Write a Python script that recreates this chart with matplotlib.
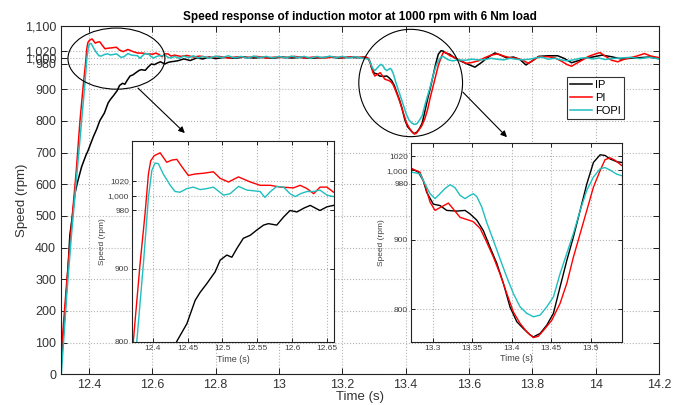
import matplotlib
matplotlib.use("Agg")
import matplotlib.pyplot as plt
from matplotlib.patches import Ellipse

plt.rcParams['font.family'] = ['Liberation Sans', 'DejaVu Sans']

title = "Speed response of induction motor at 1000 rpm with 6 Nm load"
series_names = ["IP", "PI", "FOPI"]
series_colors = ["#000000", "#ff0000", "#1fbfbf"]

main_xticks = [12.4, 12.6, 12.8, 13.0, 13.2, 13.4, 13.6, 13.8, 14.0, 14.2]
main_xticklabels = ["12.4", "12.6", "12.8", "13", "13.2", "13.4", "13.6", "13.8", "14", "14.2"]
main_yticks = [0, 100, 200, 300, 400, 500, 600, 700, 800, 900, 980, 1000, 1020, 1100]
main_yticklabels = ["0", "100", "200", "300", "400", "500", "600", "700", "800", "900",
                    "980", "1,000", "1,020", "1,100"]
inset_yticks = [800, 900, 980, 1000, 1020]
inset_yticklabels = ["800", "900", "980", "1,000", "1020"]
inset1_xticks = [12.4, 12.45, 12.5, 12.55, 12.6, 12.65]
inset1_xticklabels = ["12.4", "12.45", "12.5", "12.55", "12.6", "12.65"]
inset2_xticks = [13.3, 13.35, 13.4, 13.45, 13.5]
inset2_xticklabels = ["13.3", "13.35", "13.4", "13.45", "13.5"]

# (time [s], speed [rpm])
ip_data = [
    (12.312, 20), (12.325, 200), (12.335, 350), (12.340, 440), (12.348, 500), (12.356, 571),
    (12.365, 610), (12.377, 655), (12.390, 690), (12.398, 708), (12.414, 750), (12.425, 775),
    (12.4345, 801), (12.4489, 825), (12.4608, 857), (12.468, 868), (12.4776, 880), (12.4895, 896),
    (12.4967, 912), (12.5063, 919), (12.5135, 916), (12.5207, 928), (12.530, 942), (12.5398, 946),
    (12.549, 953), (12.559, 960), (12.566, 962), (12.578, 960), (12.5877, 971), (12.597, 980),
    (12.607, 978), (12.6164, 983), (12.626, 987), (12.640, 980), (12.650, 985), (12.6595, 987),
    (12.68, 990), (12.70, 996), (12.72, 991), (12.74, 999), (12.76, 996), (12.78, 1002),
    (12.80, 997), (12.83, 1001), (12.86, 998), (12.89, 1002), (12.92, 999), (12.95, 1001),
    (12.98, 998), (13.01, 1002), (13.04, 999), (13.07, 1001), (13.10, 998), (13.13, 1000),
    (13.16, 1002), (13.19, 999), (13.22, 1001), (13.25, 1000),
    (13.2734, 1002), (13.2818, 997), (13.288, 985), (13.2924, 968), (13.3008, 951), (13.3092, 949),
    (13.3177, 942), (13.330, 941), (13.3409, 942), (13.3472, 937), (13.3557, 928), (13.364, 913),
    (13.3725, 889), (13.381, 866), (13.3894, 837), (13.3978, 803), (13.4063, 782), (13.4147, 772),
    (13.4232, 763), (13.4273, 760), (13.4358, 765), (13.4443, 777), (13.4527, 794), (13.4611, 832),
    (13.4696, 870), (13.478, 904), (13.4865, 942), (13.4949, 980), (13.5033, 1011), (13.5118, 1022),
    (13.518, 1021), (13.5244, 1016), (13.5329, 1012), (13.539, 1011),
    (13.55, 1003), (13.566, 993), (13.59, 982), (13.619, 970), (13.64, 985), (13.656, 998),
    (13.682, 1015), (13.70, 1008), (13.72, 999), (13.74, 1002), (13.76, 995), (13.78, 977),
    (13.80, 990), (13.82, 1004), (13.85, 1006), (13.88, 1006), (13.90, 998), (13.924, 984),
    (13.95, 992), (13.97, 1000), (13.99, 1002), (14.02, 1008), (14.05, 1003), (14.08, 996),
    (14.11, 998), (14.14, 1000), (14.17, 1002), (14.20, 997),
]

pi_data = [
    (12.312, 60), (12.33, 290), (12.345, 470), (12.36, 640), (12.372, 801), (12.3817, 907),
    (12.3889, 976), (12.3937, 1030), (12.397, 1048), (12.402, 1055), (12.4105, 1059), (12.420, 1046),
    (12.4273, 1049), (12.4345, 1050), (12.4417, 1040), (12.451, 1028), (12.461, 1030), (12.4727, 1031),
    (12.487, 1033), (12.4967, 1024), (12.5086, 1019), (12.523, 1026), (12.540, 1019), (12.554, 1014.5),
    (12.5686, 1014.5), (12.583, 1012), (12.602, 1011), (12.6116, 1014.5), (12.6213, 1010), (12.631, 1003),
    (12.640, 1012), (12.650, 1012), (12.6595, 1005),
    (12.67, 1008), (12.69, 1004), (12.71, 1007), (12.73, 1002), (12.75, 1005), (12.78, 1000),
    (12.81, 1004), (12.84, 999), (12.87, 1003), (12.90, 1000), (12.93, 1004), (12.96, 999),
    (12.99, 1002), (13.02, 1000), (13.05, 1004), (13.08, 999), (13.11, 1002), (13.14, 998),
    (13.17, 1002), (13.20, 1000), (13.23, 1003), (13.255, 1001),
    (13.2734, 1002), (13.2839, 997), (13.2903, 978), (13.2966, 954), (13.3029, 942), (13.3092, 946),
    (13.3198, 952.5), (13.326, 944), (13.3346, 932), (13.343, 929), (13.3514, 925.7), (13.360, 916),
    (13.368, 897), (13.3767, 875), (13.385, 851), (13.3937, 822.5), (13.402, 796), (13.4105, 779.5),
    (13.419, 767.4), (13.4273, 759), (13.4337, 761), (13.442, 772), (13.4506, 784), (13.461, 808),
    (13.4696, 837), (13.478, 875), (13.4865, 908.6), (13.4949, 942), (13.5033, 975.5), (13.5118, 999.4),
    (13.518, 1015), (13.5244, 1017.6), (13.5308, 1014), (13.539, 1006.6),
    (13.555, 1000), (13.575, 990), (13.592, 982), (13.61, 985), (13.63, 990), (13.65, 1000),
    (13.67, 1008), (13.69, 1012), (13.71, 1005), (13.73, 1000), (13.75, 998), (13.77, 992),
    (13.787, 982), (13.80, 990), (13.82, 1003), (13.85, 1003), (13.87, 1000), (13.89, 990),
    (13.91, 978), (13.924, 973), (13.95, 988), (13.98, 1005), (14.00, 1012), (14.014, 1016),
    (14.03, 1005), (14.05, 992), (14.07, 987), (14.09, 995), (14.11, 1000), (14.13, 1005),
    (14.154, 1013), (14.175, 1005), (14.20, 1000),
]

fopi_data = [
    (12.313, 0), (12.33, 250), (12.345, 440), (12.36, 610), (12.377, 801), (12.3865, 907),
    (12.3937, 998), (12.3986, 1035), (12.4033, 1045), (12.408, 1044), (12.415, 1030), (12.425, 1014.5),
    (12.432, 1006), (12.439, 1005), (12.449, 1010), (12.4583, 1012), (12.468, 1008.6), (12.4776, 1010),
    (12.487, 1012), (12.5015, 1001), (12.511, 1003), (12.523, 1013), (12.535, 1008), (12.5446, 1007),
    (12.554, 1006), (12.561, 998), (12.569, 1006), (12.578, 1013), (12.5877, 1012), (12.597, 1003),
    (12.6045, 999), (12.612, 1003), (12.6213, 1006), (12.631, 1006), (12.640, 1008), (12.650, 1001),
    (12.6595, 999),
    (12.67, 1004), (12.685, 998), (12.70, 1005), (12.715, 1000), (12.73, 1006), (12.745, 999),
    (12.76, 1004), (12.78, 998), (12.80, 1005), (12.82, 1000), (12.84, 1006), (12.86, 999),
    (12.88, 1004), (12.90, 998), (12.92, 1005), (12.94, 1000), (12.96, 1004), (12.98, 999),
    (13.00, 1004), (13.02, 999), (13.04, 1005), (13.06, 1000), (13.08, 1004), (13.10, 998),
    (13.12, 1004), (13.14, 999), (13.16, 1005), (13.18, 1000), (13.20, 1004), (13.22, 999),
    (13.24, 1003), (13.26, 999),
    (13.2734, 997), (13.2839, 994.7), (13.2903, 980), (13.2966, 966), (13.3029, 959), (13.3092, 966),
    (13.3156, 973.6), (13.322, 979), (13.3282, 974.6), (13.3346, 963.6), (13.3409, 959), (13.3472, 963.6),
    (13.3514, 966), (13.3557, 962), (13.362, 947), (13.368, 925.6), (13.3767, 899), (13.385, 872.7),
    (13.3937, 846), (13.402, 822.5), (13.4105, 803.3), (13.419, 794), (13.4273, 789), (13.4358, 791.4),
    (13.4443, 803.3), (13.4527, 817.6), (13.4611, 851), (13.4696, 880), (13.478, 909), (13.4865, 942),
    (13.4949, 971), (13.5033, 990), (13.5118, 1002), (13.518, 1003.6), (13.5244, 1000), (13.5329, 994),
    (13.539, 992),
    (13.55, 990), (13.565, 993), (13.59, 992), (13.61, 995), (13.63, 993), (13.65, 994),
    (13.67, 998), (13.69, 995), (13.71, 993), (13.73, 998), (13.75, 995), (13.77, 993),
    (13.79, 995), (13.81, 999), (13.83, 1002), (13.85, 995), (13.87, 998), (13.89, 993),
    (13.91, 990), (13.93, 993), (13.95, 998), (13.97, 1000), (13.99, 996), (14.01, 999),
    (14.03, 994), (14.05, 997), (14.08, 999), (14.11, 1001), (14.14, 997), (14.17, 1001),
    (14.20, 996),
]

all_series = [ip_data, pi_data, fopi_data]

grid_kw = dict(color="#b4b4b4", linestyle=":", linewidth=0.8)


def style_axes(ax, fs, color):
    ax.tick_params(direction="in", top=True, right=True, labelsize=fs, colors="#000000",
                   labelcolor=color, length=4, width=0.6)
    for sp in ax.spines.values():
        sp.set_linewidth(0.8)
        sp.set_color("#222222")
    ax.grid(True, **grid_kw)
    ax.set_axisbelow(True)


fig = plt.figure(figsize=(6.8, 4.05), dpi=100)
ax = fig.add_axes([0.0897, 0.0758, 0.8794, 0.8600])

for data, name, col in zip(all_series, series_names, series_colors):
    t = [p[0] for p in data]
    s = [p[1] for p in data]
    ax.plot(t, s, color=col, lw=1.1, label=name)

ax.set_xlim(12.312, 14.2)
ax.set_ylim(0, 1100)
ax.set_xticks(main_xticks)
ax.set_xticklabels(main_xticklabels)
ax.set_yticks(main_yticks)
ax.set_yticklabels(main_yticklabels)
style_axes(ax, 9, "#333333")
ax.set_xlabel("Time (s)", fontsize=9.5, color="#333333", labelpad=0)
ax.set_ylabel("Speed (rpm)", fontsize=9.5, color="#333333", labelpad=-2)
ax.set_title(title, fontsize=8.5, fontweight="bold", pad=4)

leg = ax.legend(loc="upper left", bbox_to_anchor=(0.846, 0.8536), borderaxespad=0,
                fontsize=8, fancybox=False, framealpha=1, edgecolor="#333333",
                handlelength=2.0, handletextpad=0.2, borderpad=0.3, labelspacing=0.25)
leg.get_frame().set_linewidth(0.8)

# ellipse / circle marking zoomed regions
ax.add_patch(Ellipse((12.487, 997), 0.306, 193, fill=False, ec="k", lw=0.8, zorder=5))
ax.add_patch(Ellipse((13.416, 920), 0.3275, 339, fill=False, ec="k", lw=0.8, zorder=5))
ax.annotate("", xy=(12.703, 762), xytext=(12.555, 904),
            arrowprops=dict(arrowstyle="-|>", color="k", lw=0.8, mutation_scale=9,
                            shrinkA=0, shrinkB=0))
ax.annotate("", xy=(13.720, 749), xytext=(13.581, 891),
            arrowprops=dict(arrowstyle="-|>", color="k", lw=0.8, mutation_scale=9,
                            shrinkA=0, shrinkB=0))

insets = [
    ([0.194, 0.1556, 0.297, 0.496], (12.37, 12.66), (800, 1075), inset1_xticks, inset1_xticklabels),
    ([0.6044, 0.156, 0.3098, 0.491], (13.2725, 13.539), (753, 1039), inset2_xticks, inset2_xticklabels),
]
for rect, xl, yl, xt, xtl in insets:
    ia = fig.add_axes(rect)
    ia.set_facecolor("white")
    for data, col in zip(all_series, series_colors):
        t = [p[0] for p in data]
        s = [p[1] for p in data]
        ia.plot(t, s, color=col, lw=1.0)
    ia.set_xlim(*xl)
    ia.set_ylim(*yl)
    ia.set_xticks(xt)
    ia.set_xticklabels(xtl)
    ia.set_yticks(inset_yticks)
    ia.set_yticklabels(inset_yticklabels)
    style_axes(ia, 6, "#404040")
    ia.tick_params(length=3, pad=2)
    ia.set_xlabel("Time (s)", fontsize=6.5, color="#404040", labelpad=2)
    ia.set_ylabel("Speed (rpm)", fontsize=6, color="#404040", labelpad=1)

fig.savefig("out.png", dpi=100)
